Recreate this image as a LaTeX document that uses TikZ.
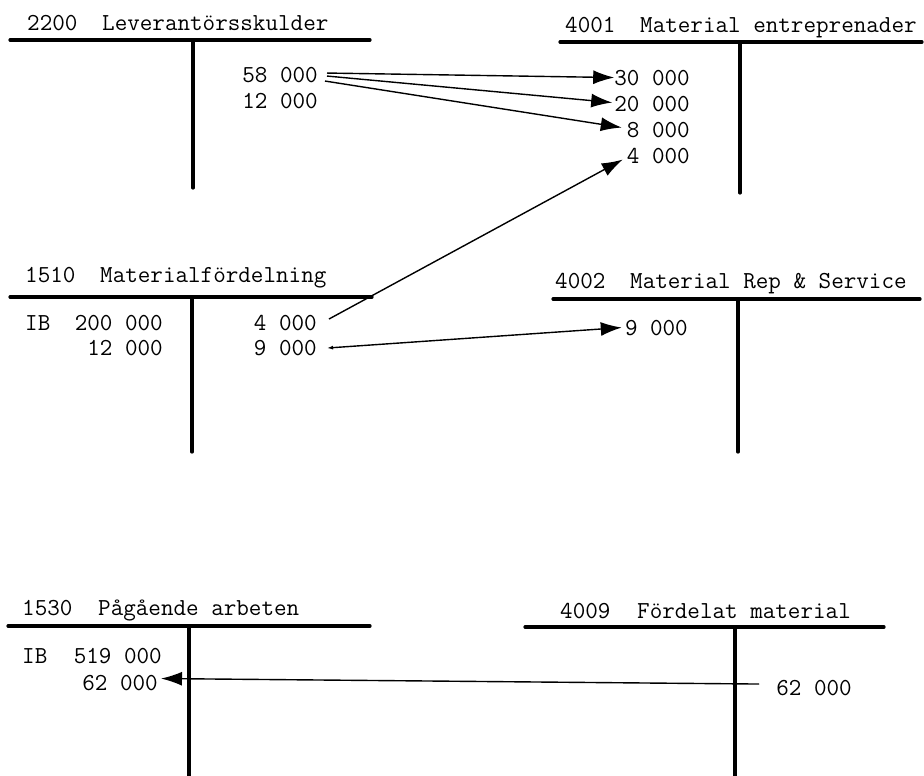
\documentclass[tikz,border=0pt]{standalone}
\usepackage{fontspec}
\usetikzlibrary{arrows.meta,calc}
\tikzset{
  tline/.style={line width=3.2pt,line cap=round},
  lbl/.style={inner sep=0pt,anchor=base west,font=\ttfamily\fontsize{24.4}{28}\selectfont},
  amt/.style={inner sep=0pt,anchor=base east,font=\ttfamily\fontsize{24.4}{28}\selectfont},
  flow/.style={line width=1.4pt,-{Latex[length=21pt,width=14pt]}},
  back/.style={line width=1.4pt,{Latex[length=6pt,width=4pt]}-{Latex[length=21pt,width=14pt]}}
}
\begin{document}
\begin{tikzpicture}[x=1pt,y=-1pt]
\useasboundingbox (0,0) rectangle (924,776);
\fill[white] (0,0) rectangle (924,776);

% ---- 2200
\node[lbl] (t2200n) at (27,31) {2200};
\node[lbl] (t2200) at (102,31) {Leverantörsskulder};
\draw[tline] (10,40) -- (370,40);
\draw[tline] (193,40) -- (193,188);
\node[amt] (a58) at (318,83) {58 000};
\node[amt] (a12) at (318,108) {12 000};

% ---- 4001
\node[lbl] (t4001n) at (565,33) {4001};
\node[lbl] (t4001) at (640,33) {Material entreprenader};
\draw[tline] (560,42) -- (922,42);
\draw[tline] (740,42) -- (740,193);
\node[amt] (b30) at (690,85) {30 000};
\node[amt] (b20) at (690,111) {20 000};
\node[amt] (b8) at (690,137) {8 000};
\node[amt] (b4) at (690,163) {4 000};

% ---- 1510
\node[lbl] (t1510n) at (25,282) {1510};
\node[lbl] (t1510) at (100,282) {Materialfördelning};
\draw[tline] (10,297) -- (372,297);
\draw[tline] (192,297) -- (192,452);
\node[lbl] (ib1) at (25,330) {IB};
\node[amt] (c200) at (163,330) {200 000};
\node[amt] (c12) at (163,355) {12 000};
\node[amt] (c4) at (317,330) {4 000};
\node[amt] (c9) at (317,355) {9 000};

% ---- 4002
\node[lbl] (t4002n) at (555,288) {4002};
\node[lbl] (t4002) at (630,288) {Material Rep \& Service};
\draw[tline] (553,299) -- (920,299);
\draw[tline] (738,299) -- (738,452);
\node[amt] (d9) at (688,335) {9 000};

% ---- 1530
\node[lbl] (t1530n) at (22,615) {1530};
\node[lbl] (t1530) at (98,615) {Pågående arbeten};
\draw[tline] (8,626) -- (370,626);
\draw[tline] (189,626) -- (189,776);
\node[lbl] (ib2) at (22,663) {IB};
\node[amt] (e519) at (162,663) {519 000};
\node[amt] (e62) at (158,690) {62 000};

% ---- 4009
\node[lbl] (t4009n) at (560,618) {4009};
\node[lbl] (t4009) at (637,618) {Fördelat material};
\draw[tline] (525,627) -- (884,627);
\draw[tline] (735,627) -- (735,776);
\node[amt] (f62) at (852,695) {62 000};

% ---- arrows
\draw[flow] ($(a58.east)+(9,-2.5)$) -- (b30.west);
\draw[flow] ($(a58.east)+(9,0.5)$) -- ($(b20.west)+(-2,-1)$);
\draw[flow] ($(a58.east)+(7,5.5)$) -- ($(b8.west)+(-5,-2)$);
\draw[flow] ($(c4.east)+(12,-3.5)$) -- ($(b4.west)+(-4,4)$);
\draw[back] ($(c9.east)+(10,0.5)$) -- ($(d9.west)+(-3,0)$);
\draw[flow] ($(f62.west)+(-17,-3.5)$) -- ($(e62.east)+(3,-4)$);
\end{tikzpicture}
\end{document}
